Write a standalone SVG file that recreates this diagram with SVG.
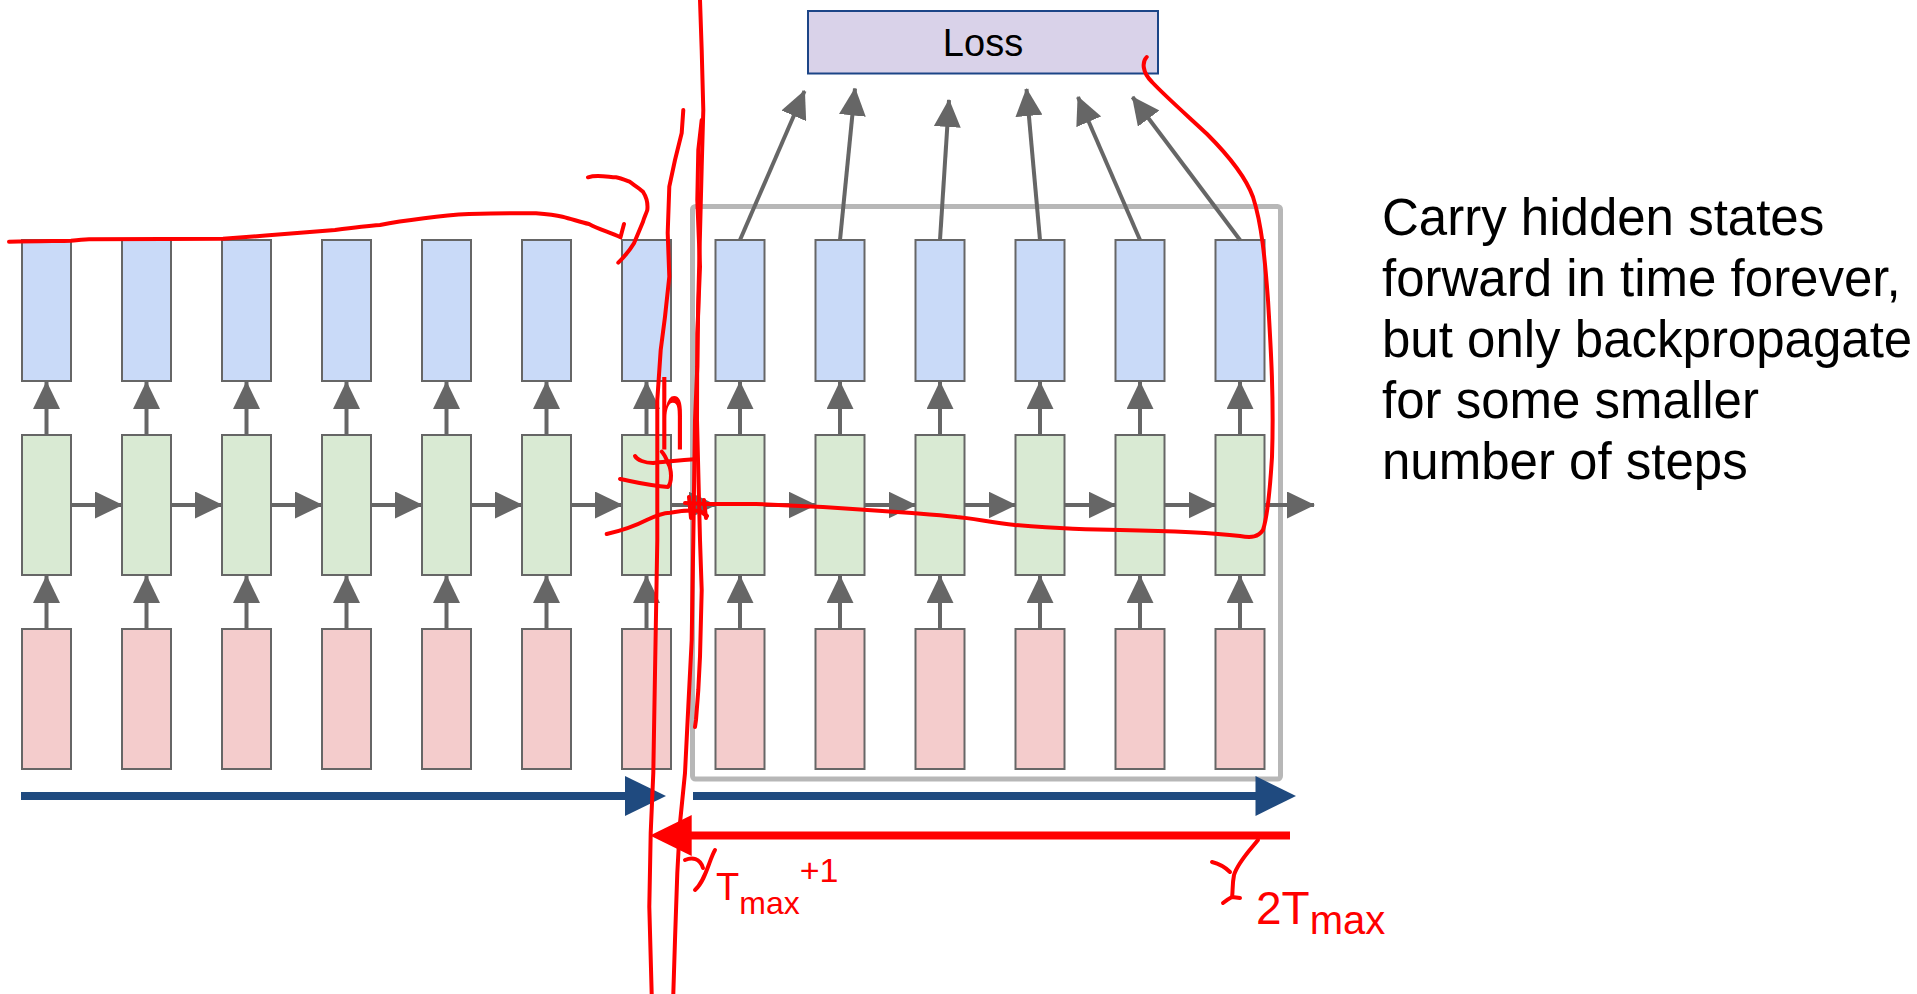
<svg xmlns="http://www.w3.org/2000/svg" width="1917" height="994" viewBox="0 0 1917 994">
<style>
.b{fill:#c9daf8;stroke:#666666;stroke-width:2}
.g{fill:#d9ead3;stroke:#666666;stroke-width:2}
.p{fill:#f4cccc;stroke:#666666;stroke-width:2}
.a{stroke:#666666;stroke-width:4;fill:none;marker-end:url(#ah)}
.ink{fill:none;stroke:#ff0000;stroke-width:4;stroke-linecap:round;stroke-linejoin:round}
.t{font-family:"Liberation Sans",Arial,sans-serif}
.red{fill:#ff0000;font-family:"Liberation Sans",Arial,sans-serif}
</style>
<defs>
<marker id="ah" markerUnits="userSpaceOnUse" viewBox="0 0 28 27" markerWidth="28" markerHeight="27" refX="27" refY="13.5" orient="auto">
<path d="M0,0 L28,13.5 L0,27 Z" fill="#666666"/>
</marker>
</defs>
<rect width="1917" height="994" fill="#ffffff"/>

<g id="window">
<rect x="692.5" y="206.5" width="588" height="572.5" rx="3" fill="none" stroke="#b7b7b7" stroke-width="5"/>
</g>

<g id="loss">
<rect x="808" y="11" width="350" height="62.5" fill="#d9d2e9" stroke="#1c4587" stroke-width="2"/>
<text class="t" x="983" y="56" font-size="38" text-anchor="middle" fill="#000">Loss</text>
</g>

<g id="outputs">
<g id="y1"><rect class="b" x="22" y="240" width="49" height="141"/></g>
<g id="y2"><rect class="b" x="122" y="240" width="49" height="141"/></g>
<g id="y3"><rect class="b" x="222" y="240" width="49" height="141"/></g>
<g id="y4"><rect class="b" x="322" y="240" width="49" height="141"/></g>
<g id="y5"><rect class="b" x="422" y="240" width="49" height="141"/></g>
<g id="y6"><rect class="b" x="522" y="240" width="49" height="141"/></g>
<g id="y7"><rect class="b" x="622" y="240" width="49" height="141"/></g>
<g id="y8"><rect class="b" x="715.5" y="240" width="49" height="141"/></g>
<g id="y9"><rect class="b" x="815.5" y="240" width="49" height="141"/></g>
<g id="y10"><rect class="b" x="915.5" y="240" width="49" height="141"/></g>
<g id="y11"><rect class="b" x="1015.5" y="240" width="49" height="141"/></g>
<g id="y12"><rect class="b" x="1115.5" y="240" width="49" height="141"/></g>
<g id="y13"><rect class="b" x="1215.5" y="240" width="49" height="141"/></g>
</g>

<g id="hidden">
<g id="h1"><rect class="g" x="22" y="435" width="49" height="140"/></g>
<g id="h2"><rect class="g" x="122" y="435" width="49" height="140"/></g>
<g id="h3"><rect class="g" x="222" y="435" width="49" height="140"/></g>
<g id="h4"><rect class="g" x="322" y="435" width="49" height="140"/></g>
<g id="h5"><rect class="g" x="422" y="435" width="49" height="140"/></g>
<g id="h6"><rect class="g" x="522" y="435" width="49" height="140"/></g>
<g id="h7"><rect class="g" x="622" y="435" width="49" height="140"/></g>
<g id="h8"><rect class="g" x="715.5" y="435" width="49" height="140"/></g>
<g id="h9"><rect class="g" x="815.5" y="435" width="49" height="140"/></g>
<g id="h10"><rect class="g" x="915.5" y="435" width="49" height="140"/></g>
<g id="h11"><rect class="g" x="1015.5" y="435" width="49" height="140"/></g>
<g id="h12"><rect class="g" x="1115.5" y="435" width="49" height="140"/></g>
<g id="h13"><rect class="g" x="1215.5" y="435" width="49" height="140"/></g>
</g>

<g id="inputs">
<g id="x1"><rect class="p" x="22" y="629" width="49" height="140"/></g>
<g id="x2"><rect class="p" x="122" y="629" width="49" height="140"/></g>
<g id="x3"><rect class="p" x="222" y="629" width="49" height="140"/></g>
<g id="x4"><rect class="p" x="322" y="629" width="49" height="140"/></g>
<g id="x5"><rect class="p" x="422" y="629" width="49" height="140"/></g>
<g id="x6"><rect class="p" x="522" y="629" width="49" height="140"/></g>
<g id="x7"><rect class="p" x="622" y="629" width="49" height="140"/></g>
<g id="x8"><rect class="p" x="715.5" y="629" width="49" height="140"/></g>
<g id="x9"><rect class="p" x="815.5" y="629" width="49" height="140"/></g>
<g id="x10"><rect class="p" x="915.5" y="629" width="49" height="140"/></g>
<g id="x11"><rect class="p" x="1015.5" y="629" width="49" height="140"/></g>
<g id="x12"><rect class="p" x="1115.5" y="629" width="49" height="140"/></g>
<g id="x13"><rect class="p" x="1215.5" y="629" width="49" height="140"/></g>
</g>

<g id="connectors">
<line class="a" x1="46.5" y1="629" x2="46.5" y2="576"/>
<line class="a" x1="146.5" y1="629" x2="146.5" y2="576"/>
<line class="a" x1="246.5" y1="629" x2="246.5" y2="576"/>
<line class="a" x1="346.5" y1="629" x2="346.5" y2="576"/>
<line class="a" x1="446.5" y1="629" x2="446.5" y2="576"/>
<line class="a" x1="546.5" y1="629" x2="546.5" y2="576"/>
<line class="a" x1="646.5" y1="629" x2="646.5" y2="576"/>
<line class="a" x1="740" y1="629" x2="740" y2="576"/>
<line class="a" x1="840" y1="629" x2="840" y2="576"/>
<line class="a" x1="940" y1="629" x2="940" y2="576"/>
<line class="a" x1="1040" y1="629" x2="1040" y2="576"/>
<line class="a" x1="1140" y1="629" x2="1140" y2="576"/>
<line class="a" x1="1240" y1="629" x2="1240" y2="576"/>
<line class="a" x1="46.5" y1="435" x2="46.5" y2="382"/>
<line class="a" x1="146.5" y1="435" x2="146.5" y2="382"/>
<line class="a" x1="246.5" y1="435" x2="246.5" y2="382"/>
<line class="a" x1="346.5" y1="435" x2="346.5" y2="382"/>
<line class="a" x1="446.5" y1="435" x2="446.5" y2="382"/>
<line class="a" x1="546.5" y1="435" x2="546.5" y2="382"/>
<line class="a" x1="646.5" y1="435" x2="646.5" y2="382"/>
<line class="a" x1="740" y1="435" x2="740" y2="382"/>
<line class="a" x1="840" y1="435" x2="840" y2="382"/>
<line class="a" x1="940" y1="435" x2="940" y2="382"/>
<line class="a" x1="1040" y1="435" x2="1040" y2="382"/>
<line class="a" x1="1140" y1="435" x2="1140" y2="382"/>
<line class="a" x1="1240" y1="435" x2="1240" y2="382"/>
<line class="a" x1="71" y1="505" x2="122" y2="505"/>
<line class="a" x1="171" y1="505" x2="222" y2="505"/>
<line class="a" x1="271" y1="505" x2="322" y2="505"/>
<line class="a" x1="371" y1="505" x2="422" y2="505"/>
<line class="a" x1="471" y1="505" x2="522" y2="505"/>
<line class="a" x1="571" y1="505" x2="622" y2="505"/>
<line class="a" x1="671" y1="505" x2="715.5" y2="505"/>
<line class="a" x1="764.5" y1="505" x2="815.5" y2="505"/>
<line class="a" x1="864.5" y1="505" x2="915.5" y2="505"/>
<line class="a" x1="964.5" y1="505" x2="1015.5" y2="505"/>
<line class="a" x1="1064.5" y1="505" x2="1115.5" y2="505"/>
<line class="a" x1="1164.5" y1="505" x2="1215.5" y2="505"/>
<line class="a" x1="1264.5" y1="505" x2="1314" y2="505"/>
<line class="a" x1="740" y1="240" x2="804.5" y2="91"/>
<line class="a" x1="840" y1="240" x2="855" y2="88.5"/>
<line class="a" x1="940" y1="240" x2="949" y2="100"/>
<line class="a" x1="1040" y1="240" x2="1026.5" y2="89"/>
<line class="a" x1="1140" y1="240" x2="1078" y2="97"/>
<line class="a" x1="1240" y1="240" x2="1132.5" y2="97"/>
<rect x="21" y="792" width="605" height="8" fill="#1f4a7f"/>
<polygon points="625,776 666,796 625,816" fill="#1f4a7f"/>
<rect x="693" y="792" width="563" height="8" fill="#1f4a7f"/>
<polygon points="1255.5,776 1296,796 1255.5,816" fill="#1f4a7f"/>
</g>

<g id="caption">
<text class="t" font-size="51" fill="#000">
<tspan x="1382" y="235">Carry hidden states</tspan>
<tspan x="1382" y="296">forward in time forever,</tspan>
<tspan x="1382" y="357">but only backpropagate</tspan>
<tspan x="1382" y="418">for some smaller</tspan>
<tspan x="1382" y="479">number of steps</tspan>
</text>
</g>

<g id="annotations">
<rect x="690" y="831.5" width="600" height="8" fill="#ff0000"/>
<polygon points="691.7,815 650,835.5 691.7,856" fill="#ff0000"/>
<path class="ink" d="M9,241.7 C40,241 60,241 71,240.7 C78,240 84,239.5 89,239.3 C130,239 180,239 223,238.7 C260,236 300,233 335,230 C350,228 365,226 380,225 C395,222 410,220 424,218.3 C440,216 455,214.5 469,214 C490,213.5 515,213 536,213.3 C545,214 555,215 562.5,216.7 C572,219 580,222 589,224 C600,230 610,232 620.5,237.3 L624,224"/>
<path class="ink" d="M588,177.3 C592,176 596,176 598,176 C605,176 610,177 616,177.3 C620,178 625,180 629.5,181.7 C634,185 639,188 643,191.7 C647,198 648,204 647.3,210 C646,214 644,218 643,221.7 C640,229 637,236 634,243.3 C630,250 625,256 618.3,262.7"/>
<polyline class="ink" points="683.3,110 681.7,133 675,160 669.3,186.7 667.7,233 669.3,276.7 665,316.7 660.7,350 657.3,400 657.3,540 655,673 653.3,773 650.7,833 649.3,906.7 651.7,994"/>
<polyline class="ink" points="700,0 701.7,50 703.3,110 701.7,166.7 700,233 698.3,300 697.3,366.7 695,420 693.3,540 691.7,640 688.3,706.7 685,773 680,823 677.3,873 675,940 673.3,994"/>
<polyline class="ink" points="701.7,120 698.3,150 697.3,200 700,266.7 697.3,333.3 697,420 700,540 701.7,590 700,656.7 698.3,690 696,720 695,727"/>
<path class="ink" d="M1146.7,57 C1142,62 1142,72 1152,82 C1165,96 1190,118 1207,134 C1225,152 1245,175 1253,197 C1262,225 1265,260 1268,300 C1271,350 1274,400 1272,457 C1270,490 1268,515 1263,530 C1258,537 1252,538 1240,536 C1215,533 1180,531 1120,530 C1080,530 1040,527 1015,525 C990,522 970,518 957,517 C940,515 925,514 912,513 C880,511 850,509 823,507 C800,506 775,505 756,504 L707,504 L685,503"/>
<path class="ink" d="M689,497 L691,518 M704,500 L706,518"/>
<path class="ink" d="M606.7,534 C620,531 635,526 646.7,520 C655,516 662,513 670,512.7 C680,511 690,510 700,511 L707,516"/>
<path class="ink" d="M620,479 C635,482 650,486 668,487 C672,482 672,470 668,463 C666,458 664,454 661.7,451.7"/>
<path class="ink" d="M635,456 C637,460 645,463 653,463 C665,462 680,460 697,459"/>
<text class="red" x="659" y="450" font-size="100" textLength="26" lengthAdjust="spacingAndGlyphs">h</text>
<path class="ink" d="M715,850 C709,860 706,880 695,890 M685,860 C692,857 700,858 703,868"/>
<text class="red" x="716" y="900" font-size="38">T<tspan font-size="32" dy="14">max</tspan><tspan font-size="34" dy="-32">+1</tspan></text>
<path class="ink" d="M1258,840 C1250,850 1238,862 1234,875 C1232,885 1233,892 1232,897 M1212,862 C1220,864 1226,868 1230,872 M1223,903 C1228,899 1232,897 1232,897 L1240,898"/>
<text class="red" x="1256" y="924" font-size="46">2T<tspan font-size="40" dy="10">max</tspan></text>
</g>
</svg>
